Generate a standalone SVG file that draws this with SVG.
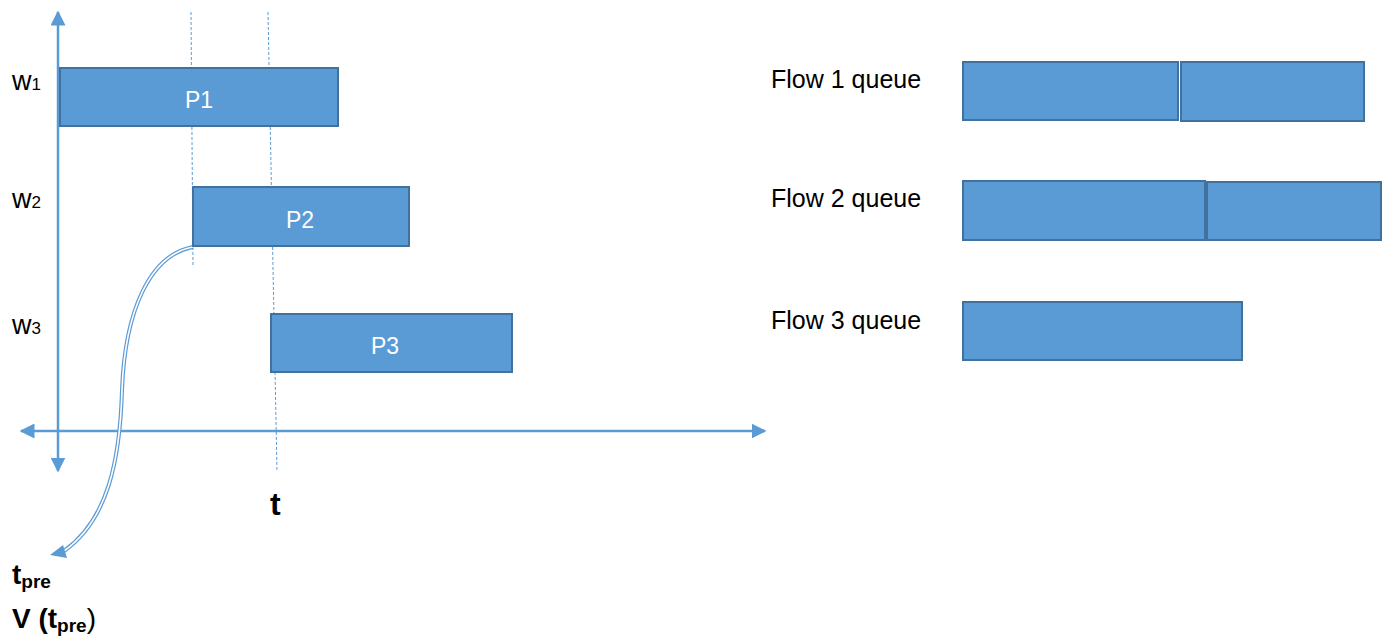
<svg xmlns="http://www.w3.org/2000/svg" width="1387" height="637" viewBox="0 0 1387 637">
<defs>
<style>
.box{fill:#5B9BD5;stroke:#41719C;stroke-width:2}
.axis{stroke:#5B9BD5;stroke-width:2.5;fill:none}
.dash{stroke:#5B9BD5;stroke-width:1;stroke-dasharray:3 2;fill:none}
.lbl{font-family:"Liberation Sans",Arial,sans-serif;font-size:27px;fill:#000}
.flow{font-family:"Liberation Sans",Arial,sans-serif;font-size:25px;fill:#000}
.in{font-family:"Liberation Sans",Arial,sans-serif;font-size:23px;fill:#fff;text-anchor:middle}
.bold{font-family:"Liberation Sans",Arial,sans-serif;font-weight:bold;font-size:28px;fill:#000}
</style>
<marker id="ah" viewBox="0 0 10 10" refX="9" refY="5" markerWidth="6" markerHeight="6" markerUnits="strokeWidth" orient="auto-start-reverse">
<path d="M0,0 L10,5 L0,10 Z" fill="#5B9BD5"/>
</marker>
</defs>
<g id="connectors">
<line class="dash" x1="191" y1="12" x2="193" y2="265"/>
<line class="dash" x1="268" y1="12" x2="277" y2="472"/>
<line id="y-axis" class="axis" x1="58" y1="12" x2="58" y2="471" marker-start="url(#ah)" marker-end="url(#ah)"/>
<line id="x-axis" class="axis" x1="21" y1="431" x2="765" y2="431" marker-start="url(#ah)" marker-end="url(#ah)"/>
<path d="M193,247 C150,255 125,310 122,390 C120,460 108,520 64,551" fill="none" stroke="#5B9BD5" stroke-width="4"/>
<path d="M193,247 C150,255 125,310 122,390 C120,460 108,520 64,551" fill="none" stroke="#fff" stroke-width="1.6"/>
<polygon points="50,555 63,545 67,558" fill="#5B9BD5"/>
</g>
<g id="P1"><rect class="box" x="60" y="68" width="278" height="58"/><text class="in" x="199" y="108">P1</text></g>
<g id="P2"><rect class="box" x="193" y="187" width="216" height="59"/><text class="in" x="300" y="228">P2</text></g>
<g id="P3"><rect class="box" x="271" y="314" width="241" height="58"/><text class="in" x="385" y="354">P3</text></g>
<g id="w-labels">
<text class="lbl" x="12" y="90">w<tspan style="font-size:17px">1</tspan></text>
<text class="lbl" x="12" y="208">w<tspan style="font-size:17px">2</tspan></text>
<text class="lbl" x="12" y="334">w<tspan style="font-size:17px">3</tspan></text>
</g>
<g id="t-label"><text class="bold" x="270" y="515" style="font-size:32px">t</text></g>
<g id="tpre-label">
<text class="bold" x="12" y="584">t<tspan style="font-size:19px" dy="4">pre</tspan></text>
<text class="bold" x="12" y="628">V (t<tspan style="font-size:19px" dy="4">pre</tspan><tspan dy="-4" style="font-weight:normal">)</tspan></text>
</g>
<g id="flow1">
<text class="flow" x="771" y="88">Flow 1 queue</text>
<rect class="box" x="963" y="62" width="215" height="58"/>
<rect class="box" x="1181" y="62" width="183" height="59"/>
</g>
<g id="flow2">
<text class="flow" x="771" y="207">Flow 2 queue</text>
<rect class="box" x="963" y="181" width="242" height="59"/>
<rect class="box" x="1207" y="182" width="174" height="58"/>
</g>
<g id="flow3">
<text class="flow" x="771" y="329">Flow 3 queue</text>
<rect class="box" x="963" y="302" width="279" height="58"/>
</g>
</svg>
